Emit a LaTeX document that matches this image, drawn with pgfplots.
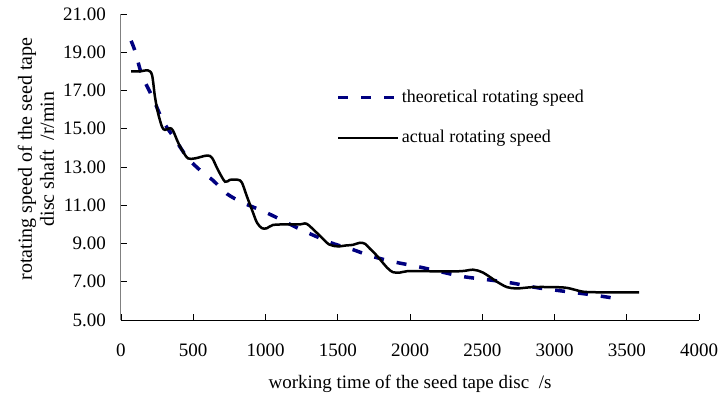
\documentclass[border=0pt]{standalone}
\usepackage{pgfplots}
\pgfplotsset{compat=1.18}
\usepackage{fontspec}
\setmainfont{Liberation Serif}
\definecolor{navyblue}{RGB}{0,0,128}
\begin{document}
\fontsize{18bp}{21bp}\selectfont
\begin{tikzpicture}
\useasboundingbox (-121bp,-81bp) rectangle (598bp,320bp);
\begin{axis}[
  at={(0,0)}, anchor=south west,
  scale only axis, width=578bp, height=306bp,
  xmin=0, xmax=4000, ymin=5, ymax=21,
  axis x line=bottom, axis y line=left,
  axis line style={-},
  x axis line style={black, line width=1bp},
  y axis line style={gray, line width=1bp},
  xtick={0,500,...,4000}, ytick={5,7,...,21},
  tick align=inside, major tick length=6bp,
  x tick style={black, line width=0.8bp},
  y tick style={black, line width=0.8bp},
  /pgf/number format/assume math mode=true,
  yticklabel style={font=\fontsize{19bp}{22bp}\selectfont, xshift=-9bp, /pgf/number format/.cd, fixed, fixed zerofill, precision=2},
  xticklabel style={font=\fontsize{19bp}{22bp}\selectfont, yshift=-18bp, /pgf/number format/.cd, 1000 sep={}},
  xlabel={working time of the seed tape disc\ \ /s},
  xlabel style={font=\fontsize{19bp}{22bp}\selectfont, at={(rel axis cs:0.5,0)}, anchor=center, yshift=-64bp},
  ylabel={rotating speed of the seed tape\\disc shaft\ \ /r/min},
  ylabel style={font=\fontsize{20bp}{22bp}\selectfont, align=center, at={(rel axis cs:0,0.5)}, anchor=center, yshift=85bp, xshift=8bp},
  legend style={at={(rel axis cs:0.367,0.765)}, anchor=north west, draw=none, fill=none, row sep=21bp},
  legend cell align=left,
  legend image code/.code={\draw[#1] (0bp,0bp) -- (60bp,0bp);},
]
\addplot[navyblue, line width=3.5bp, dash pattern=on 10bp off 13bp, smooth] coordinates {
(70,19.6) (100,19.0) (145,17.8) (221,16.6) (291,15.4) (374,14.45) (464,13.45)
(567,12.7) (637,12.3) (733,11.6) (844,11.13) (1010,10.6) (1239,9.75) (1356,9.35)
(1467,9.0) (1605,8.68) (1723,8.36) (1882,8.05) (2055,7.79) (2207,7.53) (2367,7.27)
(2533,7.11) (2692,6.95) (2879,6.69) (3038,6.53) (3245,6.33) (3432,6.12)
};
\addlegendentry{theoretical rotating speed}
\addplot[black, line width=2.5bp, smooth, tension=0.5] coordinates {
(70,18.0) (130,18.0) (187,18.05) (215,17.8) (235,16.67) (256,15.83) (284,15.1)
(304,14.94) (339,15.03) (360,14.9) (394,14.3) (429,13.8) (464,13.45) (512,13.45)
(595,13.6) (630,13.48) (671,12.85) (720,12.23) (754,12.33) (810,12.33) (837,12.18)
(872,11.45) (906,10.77) (941,10.09) (976,9.8) (1010,9.8) (1052,9.97) (1150,10.0)
(1239,10.0) (1273,10.05) (1300,9.95) (1377,9.4) (1440,8.95) (1500,8.85) (1560,8.9)
(1605,8.93) (1654,9.04) (1690,8.98) (1720,8.75) (1771,8.36) (1841,7.74) (1882,7.5)
(1931,7.48) (1979,7.55) (2100,7.55) (2346,7.55) (2436,7.63) (2505,7.48) (2602,7.0)
(2671,6.72) (2740,6.65) (2851,6.72) (2989,6.72) (3086,6.68) (3197,6.48) (3300,6.45)
(3585,6.45)
};
\addlegendentry{actual rotating speed}
\end{axis}
\end{tikzpicture}
\end{document}
